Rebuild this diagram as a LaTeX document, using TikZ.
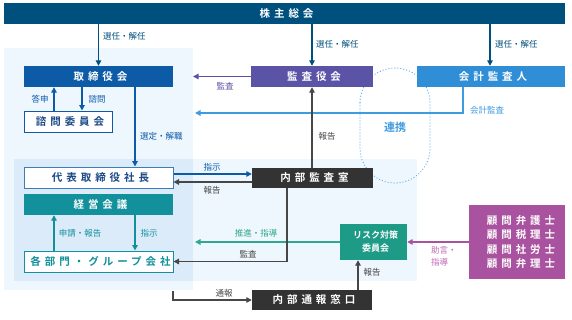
\documentclass[tikz,border=0pt]{standalone}
\usepackage{fontspec}
\setmainfont{Noto Sans CJK JP}[BoldFont={Noto Sans CJK JP Bold}]
\usetikzlibrary{arrows.meta}
\definecolor{cTop}{HTML}{00507E}
\definecolor{cBoard}{HTML}{0D5BA7}
\definecolor{cBlueTxt}{HTML}{1B4A87}
\definecolor{cAudit}{HTML}{5B53A6}
\definecolor{cAcct}{HTML}{2F8ED6}
\definecolor{cAcctL}{HTML}{3F9BE0}
\definecolor{cTeal}{HTML}{12909C}
\definecolor{cRisk}{HTML}{1E9B86}
\definecolor{cRiskL}{HTML}{2FA88F}
\definecolor{cDark}{HTML}{333333}
\definecolor{cGray}{HTML}{474747}
\definecolor{cKomon}{HTML}{A9529F}
\definecolor{cKomonL}{HTML}{C06AB8}
\definecolor{cPanel}{HTML}{EEF6FE}
\definecolor{cPanelB}{HTML}{DCEBFA}
\definecolor{cDot}{HTML}{5AAEF0}
\newcommand\boxfont{\fontsize{10.5}{14.5}\selectfont\bfseries\addfontfeature{LetterSpace=38}}
\begin{document}
\begin{tikzpicture}[x=1pt,y=-1pt,
  box/.style={minimum height=21pt, inner sep=0pt, font=\boxfont, text=white,
    execute at begin node={\hspace*{4pt}}},
  obox/.style={box, fill=white, draw, line width=1pt},
  arr/.style={-{Triangle[length=5.5pt,width=5.5pt]}, line width=1.3pt},
  lab/.style={font=\fontsize{8.5}{10}\selectfont, inner sep=0pt},
  dotline/.style={draw=cDot, line width=1.3pt, line cap=round, dash pattern=on 0pt off 3pt}]
\useasboundingbox (0,0) rectangle (572,319);
\fill[white] (0,0) rectangle (572,319);
% panels
\fill[cPanel] (4,48) rectangle (193,290);
\fill[cPanel] (193,159) rectangle (417,281);
\fill[cPanelB] (14,159) rectangle (193,281);
% renkei dotted
\draw[dotline, rounded corners=35pt] (360,68) rectangle (430,183);
\node[font=\fontsize{11}{12}\selectfont\bfseries, text=cAcctL, inner sep=0pt] (renkei) at (395,127) {連携};
% nodes
\node[box, fill=cTop, minimum width=561pt] (sh) at (284.5,13.5) {株主総会};
\node[box, fill=cBoard, minimum width=149pt] (tor) at (98.5,76.5) {取締役会};
\node[obox, draw=cBoard, text=cBlueTxt, minimum width=88pt] (shimon) at (68,121.5) {諮問委員会};
\node[box, fill=cAudit, minimum width=122pt] (kansa) at (312,76.5) {監査役会};
\node[box, fill=cAcct, minimum width=148pt] (kaikei) at (491,76.5) {会計監査人};
\node[obox, draw=cBoard!80, text=cBlueTxt, minimum width=149pt] (ceo) at (98.5,177.5) {代表取締役社長};
\node[box, fill=cTeal, minimum width=149pt] (keiei) at (98.5,204.5) {経営会議};
\node[obox, draw=cTeal, text=cTeal, minimum width=149pt] (bumon) at (98.5,261.5) {各部門・グループ会社};
\node[box, fill=cDark, minimum width=121pt, minimum height=20pt] (naibu) at (312.5,178) {内部監査室};
\node[box, fill=cRisk, minimum width=67pt, minimum height=36pt, align=center,
  font=\fontsize{9}{13}\selectfont\bfseries, execute at begin node={}] (risk) at (373.5,242) {リスク対策\\委員会};
\node[box, fill=cKomon, minimum width=96pt, minimum height=74pt, align=center,
  execute at begin node={}] (komon) at (517,242)
  {\hspace*{4pt}顧問弁護士\\\hspace*{4pt}顧問税理士\\\hspace*{4pt}顧問社労士\\\hspace*{4pt}顧問弁理士};
\node[box, fill=cDark, minimum width=120pt, minimum height=20pt] (tsuho) at (312,300) {内部通報窓口};
% free ends
\coordinate (kaEnd) at (193,76.5);
\coordinate (acEnd) at (195,113);
\coordinate (suEnd) at (195,242);
\coordinate (tsStart) at (173,291);
% connectors
\draw[arr, cTop] (tor.north |- sh.south) -- (tor.north);
\draw[arr, cTop] (kansa.north |- sh.south) -- (kansa.north);
\draw[arr, cTop] ([xshift=-1pt]kaikei.north |- sh.south) -- ([xshift=-1pt]kaikei.north);
\draw[arr, cBoard] ([xshift=-14pt]shimon.north) -- ([xshift=-14pt]shimon.north |- tor.south);
\draw[arr, cBoard] ([xshift=14pt]shimon.north |- tor.south) -- ([xshift=14pt]shimon.north);
\draw[arr, cBoard] ([xshift=36.5pt]tor.south) -- ([xshift=36.5pt]ceo.north);
\draw[arr, cAudit] (kansa.west) -- (kaEnd);
\draw[arr, cAcctL] ([xshift=-28pt]kaikei.south) |- (acEnd);
\draw[arr, cTeal] ([xshift=-44.5pt]bumon.north) -- ([xshift=-44.5pt]keiei.south);
\draw[arr, cTeal] ([xshift=36.5pt]keiei.south) -- ([xshift=36.5pt]bumon.north);
\draw[arr, cBoard] ([yshift=3.5pt]ceo.east) -- ([yshift=3.5pt]ceo.east -| naibu.west);
\draw[arr, cGray] ([yshift=-4.5pt]ceo.east -| naibu.west) -- ([yshift=-4.5pt]ceo.east);
\draw[arr, cGray] (naibu.north -| kansa.south) -- (kansa.south);
\draw[arr, cRiskL] (risk.west) -- (suEnd);
\draw[arr, cGray] ([xshift=-25.5pt]naibu.south) |- (bumon.east);
\draw[arr, cKomon] (komon.west) -- (risk.east);
\draw[arr, cGray] (tsStart) |- (tsuho.west);
\draw[arr, cGray] ([xshift=46pt]tsuho.north) -- ([xshift=46pt]tsuho.north |- risk.south);
% labels
\node[lab, text=cTop, anchor=west] (l1) at (103,36) {選任・解任};
\node[lab, text=cTop, anchor=west] (l2) at (316,44) {選任・解任};
\node[lab, text=cTop, anchor=west] (l3) at (495,44) {選任・解任};
\node[lab, text=cBoard] (l4) at (40,99) {答申};
\node[lab, text=cBoard] (l5) at (97,99) {諮問};
\node[lab, text=cAudit] (l6) at (225,86) {監査};
\node[lab, text=cAcctL] (l7) at (487,110) {会計監査};
\node[lab, text=cBoard, anchor=west] (l8) at (140,136) {選定・解職};
\node[lab, text=cGray] (l9) at (327,136) {報告};
\node[lab, text=cBoard] (l10) at (212,167) {指示};
\node[lab, text=cGray] (l11) at (212,190) {報告};
\node[lab, text=cTeal] (l12) at (80,233) {申請・報告};
\node[lab, text=cTeal] (l13) at (149,233) {指示};
\node[lab, text=cRiskL] (l14) at (256,233) {推進・指導};
\node[lab, text=cGray] (l15) at (248,254) {監査};
\node[lab, text=cKomonL, anchor=west] (l16) at (431,250) {助言・};
\node[lab, text=cKomonL, anchor=west] (l17) at (431,262) {指導};
\node[lab, text=cGray] (l18) at (372,272) {報告};
\node[lab, text=cGray] (l19) at (224,293) {通報};
\end{tikzpicture}
\end{document}
